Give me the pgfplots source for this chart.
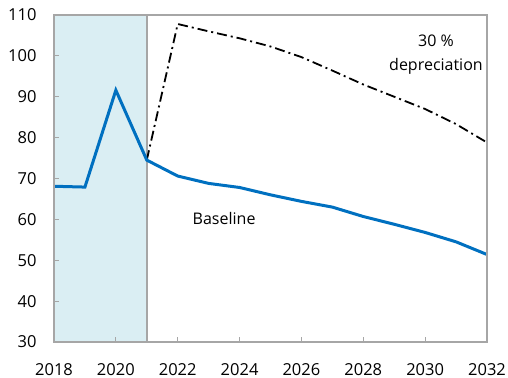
\documentclass[border=0pt]{standalone}
\usepackage{pgfplots}
\pgfplotsset{compat=1.18}
\usepackage{fontspec}
\setmainfont{Open Sans}
\definecolor{lineblue}{HTML}{0070C0}
\definecolor{shade}{HTML}{DAEEF3}
\definecolor{axgray}{HTML}{A6A6A6}
\begin{document}
\begin{tikzpicture}
\begin{axis}[
  name=ax,
  scale only axis, width=433pt, height=327pt,
  xmin=2018, xmax=2032, ymin=30, ymax=110,
  xtick={2018,2020,...,2032}, ytick={30,40,...,110},
  axis line style={axgray, line width=1.5pt},
  tick style={axgray, line width=1.2pt},
  tick align=inside, major tick length=5pt,
  xtick pos=bottom, ytick pos=left,
  /pgf/number format/1000 sep={},
  /pgf/number format/assume math mode=true,
  tick label style={font=\fontsize{16.5}{19}\selectfont, text=black},
  xticklabel style={yshift=-18pt},
  yticklabel style={xshift=-14pt},
  axis on top,
  clip=false,
]
\addplot[fill=shade, draw=none] coordinates {(2018,30) (2018,110) (2021,110) (2021,30) (2018,30)};
\addplot[axgray, line width=1.5pt] coordinates {(2021,30) (2021,110)};
\addplot[black, line width=1.8pt, dash pattern=on 10pt off 4pt on 2pt off 4pt] coordinates {
(2021,74.5) (2022,107.8) (2023,106) (2024,104.3) (2025,102.3) (2026,99.7) (2027,96.4) (2028,93.0) (2029,90.0) (2030,87.0) (2031,83.3) (2032,78.8)};
\addplot[lineblue, line width=3pt] coordinates {
(2018,68.1) (2019,67.9) (2020,91.6) (2021,74.5) (2022,70.6) (2023,68.8) (2024,67.8) (2025,66.0) (2026,64.4) (2027,63.0) (2028,60.7) (2029,58.8) (2030,56.8) (2031,54.5) (2032,51.4)};
\node[font=\fontsize{16}{18}\selectfont] at (axis cs:2023.5,60.3) {Baseline};
\node[font=\fontsize{16}{24}\selectfont, align=center] at (axis cs:2030.35,100.2) {30 \%\\depreciation};
\end{axis}
\pgfresetboundingbox
\path[use as bounding box] (ax.south west) ++(-54pt,-36pt) rectangle ([xshift=21pt,yshift=15pt]ax.north east);
\end{tikzpicture}
\end{document}
